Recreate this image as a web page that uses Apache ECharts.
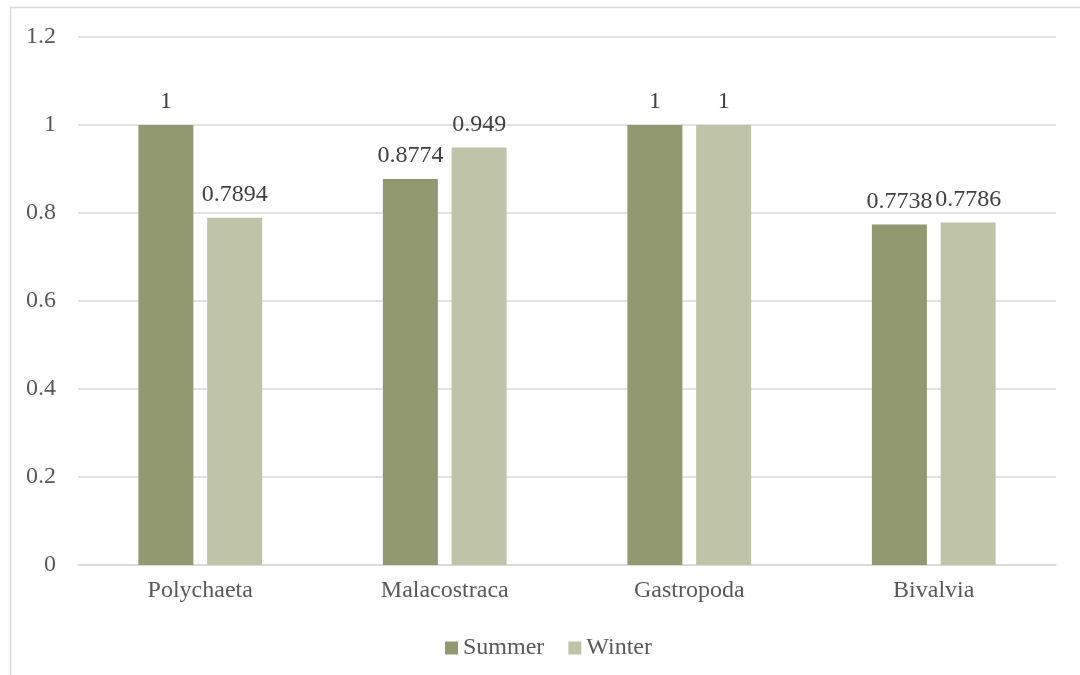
<!DOCTYPE html>
<html>
<head>
<meta charset="utf-8">
<style>
  html, body { margin: 0; padding: 0; background: #ffffff; }
  #chart { width: 1080px; height: 675px; }
</style>
<script src="https://cdn.jsdelivr.net/npm/echarts@6/dist/echarts.min.js"></script>
</head>
<body>
<div id="chart"></div>
<script>
// Taxa and seasonal values
const categories = ['Polychaeta', 'Malacostraca', 'Gastropoda', 'Bivalvia'];
const summerValues = [1, 0.8774, 1, 0.7738];
const winterValues = [0.7894, 0.949, 1, 0.7786];
const seriesNames = ['Summer', 'Winter'];
const yTicks = { min: 0, max: 1.2, interval: 0.2 };

const FONT = '"Liberation Serif", "Times New Roman", serif';
const TEXT = '#595959';
const summerColor = '#929870';
const winterColor = '#BFC4A9';
const FS = 24;

const chart = echarts.init(document.getElementById('chart'), null, { renderer: 'canvas' });

const labelStyle = {
  show: true,
  position: 'top',
  distance: 11,
  color: '#404040',
  fontFamily: FONT,
  fontSize: FS
};

chart.setOption({
  animation: false,
  backgroundColor: '#ffffff',
  textStyle: { fontFamily: FONT },
  graphic: [{
    type: 'polyline',
    shape: { points: [[10.5, 675], [10.5, 7.5], [1080, 7.5]] },
    style: { stroke: '#D9D9D9', lineWidth: 1.5, fill: null },
    silent: true
  }],
  grid: { left: 78, right: 24, top: 37, bottom: 110, containLabel: false },
  legend: {
    data: seriesNames,
    left: 440,
    top: 631,
    itemWidth: 13,
    itemHeight: 13,
    itemGap: 24,
    icon: 'rect',
    textStyle: { color: TEXT, fontFamily: FONT, fontSize: FS }
  },
  xAxis: {
    type: 'category',
    data: categories,
    axisLine: { show: true, lineStyle: { color: '#D9D9D9', width: 1.5 } },
    axisTick: { show: false },
    axisLabel: { color: TEXT, fontFamily: FONT, fontSize: FS, margin: 14 }
  },
  yAxis: {
    type: 'value',
    min: yTicks.min,
    max: yTicks.max,
    interval: yTicks.interval,
    axisLine: { show: false },
    axisTick: { show: false },
    splitLine: { lineStyle: { color: '#D9D9D9', width: 1.5 } },
    axisLabel: {
      color: TEXT, fontFamily: FONT, fontSize: FS, margin: 22,
      formatter: v => String(Math.round(v * 10) / 10)
    }
  },
  series: [
    {
      name: seriesNames[0],
      type: 'bar',
      data: summerValues,
      barWidth: 55,
      barGap: '25%',
      itemStyle: { color: summerColor },
      label: labelStyle
    },
    {
      name: seriesNames[1],
      type: 'bar',
      data: winterValues,
      barWidth: 55,
      barGap: '25%',
      itemStyle: { color: winterColor },
      label: labelStyle
    }
  ]
});
</script>
</body>
</html>
